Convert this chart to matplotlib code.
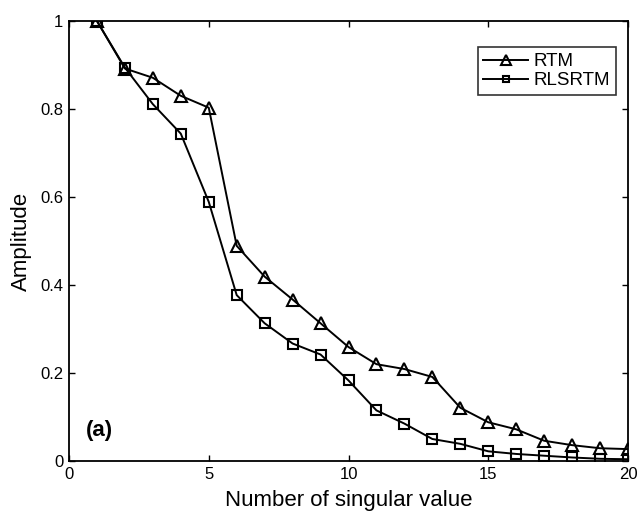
import matplotlib
matplotlib.use("Agg")
import matplotlib.pyplot as plt

plt.rcParams['font.family'] = ['Liberation Sans', 'DejaVu Sans']

n_singular = list(range(1, 21))
rtm = [1.0, 0.892, 0.871, 0.830, 0.803, 0.489, 0.419, 0.367, 0.313, 0.259,
       0.220, 0.209, 0.191, 0.121, 0.088, 0.072, 0.046, 0.036, 0.029, 0.027]
rlsrtm = [1.0, 0.894, 0.811, 0.744, 0.589, 0.377, 0.313, 0.267, 0.242, 0.183,
          0.115, 0.085, 0.050, 0.039, 0.022, 0.016, 0.012, 0.008, 0.005, 0.004]
x_ticks = [0, 5, 10, 15, 20]
y_ticks = [0, 0.2, 0.4, 0.6, 0.8, 1.0]
y_tick_labels = ['0', '0.2', '0.4', '0.6', '0.8', '1']

fig = plt.figure(figsize=(6.37, 5.16), dpi=100)
ax = fig.add_axes([0.1083, 0.1066, 0.8776, 0.8527])

ax.plot(n_singular, rtm, color='black', lw=1.4, marker='^', ms=8.8,
        mfc='none', mec='black', mew=1.5, label='RTM')
ax.plot(n_singular, rlsrtm, color='black', lw=1.4, marker='s', ms=6.5,
        mfc='none', mec='black', mew=1.5, label='RLSRTM')

ax.set_xlim(0, 20)
ax.set_ylim(0, 1)
ax.set_xticks(x_ticks)
ax.set_yticks(y_ticks)
ax.set_yticklabels(y_tick_labels)
ax.tick_params(direction='in', length=4, width=1, labelsize=12,
               top=True, right=True, labeltop=False, labelright=False, pad=4)
for sp in ax.spines.values():
    sp.set_linewidth(1.3)

ax.set_xlabel('Number of singular value', fontsize=16, labelpad=6)
ax.set_ylabel('Amplitude', fontsize=16, labelpad=6)

leg = ax.legend(loc='upper right', bbox_to_anchor=(0.9785, 0.94), fontsize=13.5,
                frameon=True, fancybox=False, edgecolor='black',
                handlelength=2.4, handletextpad=0.3, borderpad=0.3,
                labelspacing=0.1, markerscale=0.75, borderaxespad=0)
leg.get_frame().set_linewidth(1.2)

ax.text(0.6, 0.07, '(a)', fontsize=16, fontweight='bold', ha='left', va='center')

fig.savefig('out.png', dpi=100)
